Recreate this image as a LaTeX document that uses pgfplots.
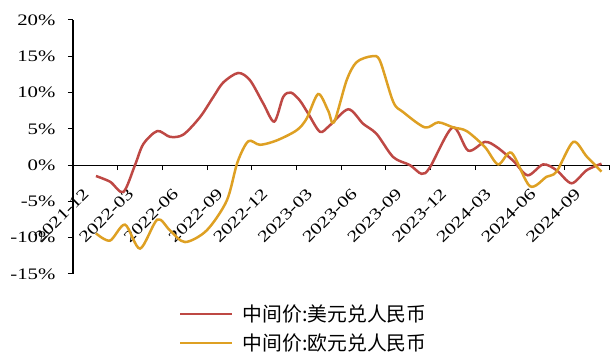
\documentclass[border=0pt]{standalone}
\usepackage{fontspec}
\setmainfont{Liberation Serif}[FakeStretch=1.3]
\newfontfamily\cjk{Noto Sans CJK SC}
\usepackage{pgfplots}
\pgfplotsset{compat=1.18}
\definecolor{usdc}{RGB}{190,72,68}
\definecolor{eurc}{RGB}{222,160,35}
\begin{document}
\begin{tikzpicture}
\useasboundingbox (0pt,0pt) rectangle (611pt,356pt);
\begin{axis}[
  at={(73pt,82pt)}, anchor=south west,
  scale only axis, width=536.3pt, height=254pt,
  xmin=0, xmax=36, ymin=-15, ymax=20,
  axis x line=middle, axis y line=left,
  axis line style={-, black, line width=1.1pt},
  hide obscured x ticks=false,
  tick align=outside, major tick length=5pt,
  tick style={black, line width=1pt},
  xtick={0,3,...,36},
  xticklabels={2021-12,2022-03,2022-06,2022-09,2022-12,2023-03,2023-06,2023-09,2023-12,2024-03,2024-06,2024-09,{}},
  ytick={-15,-10,...,20},
  yticklabels={-15\%,-10\%,-5\%,0\%,5\%,10\%,15\%,20\%},
  ticklabel style={font=\fontsize{16}{18}\selectfont},
  yticklabel style={xshift=-9pt},
  xticklabel style={rotate=45, anchor=east, xshift=-2pt, yshift=-24pt},
  legend style={at={(axis description cs:0.1977,-0.12)}, anchor=north west,
    draw=none, fill=none, inner sep=0pt, row sep=11pt, column sep=9pt,
    font=\fontsize{19.8}{21}\selectfont\cjk, nodes={inner sep=0pt}},
  legend cell align=left,
  legend image code/.code={\draw[#1] (0pt,0pt) -- (52pt,0pt);},
]
\addplot[color=usdc, line width=2.5pt, smooth, tension=0.5] coordinates {
(1.54,-1.5) (2.50,-2.3) (3.38,-3.7) (4.16,0.0) (4.72,2.9) (5.66,4.7)
(6.51,3.9) (7.40,4.2) (8.52,6.6) (9.42,9.4) (10.09,11.4) (11.09,12.7)
(11.88,11.7) (12.77,8.5) (13.51,6.0) (14.11,9.4) (14.63,10.0) (15.23,8.9)
(15.79,7.1) (16.58,4.6) (17.25,5.5) (18.48,7.7) (19.48,5.7) (20.38,4.3)
(21.50,1.1) (22.62,0.0) (23.40,-1.2) (23.96,-0.3) (25.48,5.2) (26.53,2.0)
(27.65,3.2) (28.44,2.5) (29.55,0.6) (30.52,-1.4) (31.56,0.1) (32.46,-0.7)
(33.47,-2.5) (34.48,-0.7) (35.48,0.2)
};
\addlegendentry{中间价:美元兑人民币}
\addplot[color=eurc, line width=2.5pt, smooth, tension=0.5] coordinates {
(1.54,-9.4) (2.48,-10.4) (3.49,-8.2) (4.50,-11.5) (5.66,-7.5) (6.51,-9.0)
(7.52,-10.6) (8.97,-9.0) (10.32,-4.9) (11.04,0.4) (11.77,3.3) (12.55,2.8)
(13.67,3.4) (15.01,4.8) (15.68,6.4) (16.46,9.8) (17.13,7.5) (17.52,5.9)
(18.37,11.7) (19.04,14.2) (20.05,15.0) (20.60,14.4) (21.50,8.7) (22.17,7.3)
(23.62,5.2) (24.52,5.9) (25.52,5.2) (26.42,4.7) (27.65,2.5) (28.54,0.1)
(29.44,1.7) (30.67,-2.9) (31.79,-1.6) (32.46,-0.9) (33.58,3.2) (34.48,1.2)
(35.48,-0.9)
};
\addlegendentry{中间价:欧元兑人民币}
\end{axis}
\end{tikzpicture}
\end{document}
